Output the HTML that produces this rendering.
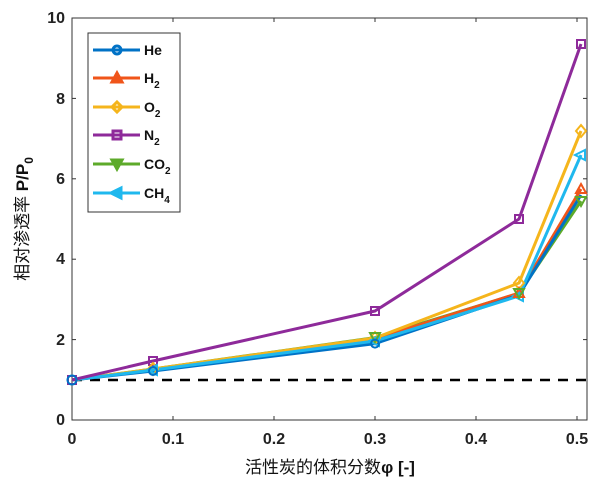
<!DOCTYPE html>
<html><head><meta charset="utf-8"><style>body{margin:0;background:#fff}svg{display:block}</style></head><body>
<svg width="600" height="488" xmlns="http://www.w3.org/2000/svg" font-family="Liberation Sans, Noto Sans CJK SC, sans-serif">
<rect x="72" y="18" width="515" height="402" fill="#fff" stroke="#333" stroke-width="1"/>
<g stroke="#333" stroke-width="1">
<line x1="72" y1="380" x2="76" y2="380"/><line x1="72" y1="339.6" x2="76" y2="339.6"/><line x1="72" y1="259.2" x2="76" y2="259.2"/><line x1="72" y1="178.8" x2="76" y2="178.8"/><line x1="72" y1="98.4" x2="76" y2="98.4"/>
<line x1="583" y1="339.6" x2="587" y2="339.6"/><line x1="583" y1="259.2" x2="587" y2="259.2"/><line x1="583" y1="178.8" x2="587" y2="178.8"/><line x1="583" y1="98.4" x2="587" y2="98.4"/>
<line x1="173" y1="420" x2="173" y2="416"/><line x1="274" y1="420" x2="274" y2="416"/><line x1="375" y1="420" x2="375" y2="416"/><line x1="476" y1="420" x2="476" y2="416"/><line x1="577" y1="420" x2="577" y2="416"/>
<line x1="173" y1="18" x2="173" y2="22"/><line x1="274" y1="18" x2="274" y2="22"/><line x1="375" y1="18" x2="375" y2="22"/><line x1="476" y1="18" x2="476" y2="22"/><line x1="577" y1="18" x2="577" y2="22"/>
</g>
<g font-size="16" font-weight="bold" fill="#222" text-anchor="end">
<text x="65" y="425">0</text><text x="65" y="345">2</text><text x="65" y="264">4</text><text x="65" y="184">6</text><text x="65" y="104">8</text><text x="65" y="23">10</text>
</g>
<g font-size="16" font-weight="bold" fill="#222" text-anchor="middle">
<text x="72" y="444">0</text><text x="173" y="444">0.1</text><text x="274" y="444">0.2</text><text x="375" y="444">0.3</text><text x="476" y="444">0.4</text><text x="577" y="444">0.5</text>
</g>
<text x="330" y="473" font-size="17" text-anchor="middle" fill="#111">活性炭的体积分数<tspan font-weight="bold">φ [-]</tspan></text>
<text transform="translate(28,219) rotate(-90)" font-size="17" text-anchor="middle" fill="#111">相对渗透率 <tspan font-weight="bold">P/P<tspan font-size="12" dy="5">0</tspan></tspan></text>
<line x1="72" y1="380" x2="587" y2="380" stroke="#000" stroke-width="2.5" stroke-dasharray="10,8"/>
<g fill="none" stroke-width="3" stroke-linejoin="round">
<polyline stroke="#5DAA2A" points="72,380 153,369 375,337.6 519,293.4 581,201"/>
<polyline stroke="#F0551A" points="72,380 153,370 375,339 519,293 581,189"/>
<polyline stroke="#0072C6" points="72,380 153,371 375,343.6 519,295 581,195"/>
<polyline stroke="#F5B51C" points="72,380 153,369 375,338 519,283 581,131"/>
<polyline stroke="#1FB8EE" points="72,380 153,370 375,341 519,296 581,155"/>
<polyline stroke="#8E2A9A" points="72,380 153,361 375,311 519,219 581,44"/>
</g>
<g fill="none" stroke-width="2">
<g stroke="#8E2A9A"><rect x="68" y="376" width="8" height="8"/><rect x="149" y="357" width="8" height="8"/><rect x="371" y="307" width="8" height="8"/><rect x="515" y="215" width="8" height="8"/><rect x="577" y="40" width="8" height="8"/></g>
<g stroke="#F5B51C"><path d="M519 277l5 6-5 6-5-6z M581 125l5 6-5 6-5-6z M375 332l5 6-5 6-5-6z M153 363l5 6-5 6-5-6z"/></g>
<g stroke="#1FB8EE"><path d="M513 296l10-5v10z M575 155l10-5v10z M369 341l10-5v10z M147 370l10-5v10z"/></g>
<g stroke="#F0551A"><path d="M581 184l5 9h-10z M519 288l5 9h-10z"/></g>
<g stroke="#5DAA2A"><path d="M581 206l5-9h-10z M519 298l5-9h-10z M375 342l5-9h-10z"/></g>
<g stroke="#0072C6"><circle cx="72" cy="380" r="4.5"/><circle cx="375" cy="343.6" r="4"/><circle cx="153" cy="371" r="4"/></g>
</g>
<rect x="88" y="33" width="92" height="179" fill="#fff" stroke="#333" stroke-width="1"/>
<g stroke-width="3" fill="none">
<line x1="93" y1="50" x2="140" y2="50" stroke="#0072C6"/><circle cx="117" cy="50" r="4" stroke="#0072C6"/>
<line x1="93" y1="78" x2="140" y2="78" stroke="#F0551A"/><path d="M117 73l5 9h-10z" fill="#F0551A" stroke="#F0551A"/>
<line x1="93" y1="107" x2="140" y2="107" stroke="#F5B51C"/><path d="M117 102l5 5-5 5-5-5z" stroke="#F5B51C"/>
<line x1="93" y1="135" x2="140" y2="135" stroke="#8E2A9A"/><rect x="113" y="131" width="8" height="8" stroke="#8E2A9A"/>
<line x1="93" y1="164" x2="140" y2="164" stroke="#5DAA2A"/><path d="M117 169l5-9h-10z" fill="#5DAA2A" stroke="#5DAA2A"/>
<line x1="93" y1="193" x2="140" y2="193" stroke="#1FB8EE"/><path d="M111 193l10-5v10z" fill="#1FB8EE" stroke="#1FB8EE"/>
</g>
<g font-size="14" font-weight="bold" fill="#111">
<text x="144" y="55">He</text>
<text x="144" y="83">H<tspan font-size="10" dy="5">2</tspan></text>
<text x="144" y="112">O<tspan font-size="10" dy="5">2</tspan></text>
<text x="144" y="140">N<tspan font-size="10" dy="5">2</tspan></text>
<text x="144" y="169">CO<tspan font-size="10" dy="5">2</tspan></text>
<text x="144" y="198">CH<tspan font-size="10" dy="5">4</tspan></text>
</g>
</svg>
</body></html>
